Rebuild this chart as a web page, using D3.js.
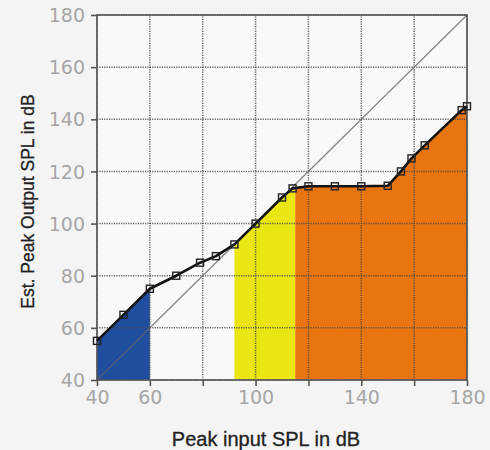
<!DOCTYPE html>
<html><head><meta charset="utf-8">
<script src="https://cdn.jsdelivr.net/npm/d3@7"></script>
<style>html,body{margin:0;padding:0;background:#f4f4f4;}svg{display:block;}</style>
</head><body>
<svg id="chart" width="490" height="450"></svg>
<script>
// Data
const inputSPL  = [40, 50, 60, 70, 79, 85, 92, 100, 110, 114, 120, 130, 140, 150, 155, 159, 164, 178, 180];
const outputSPL = [55, 65, 75, 80, 85, 87.5, 92, 100, 110, 113.5, 114.3, 114.3, 114.3, 114.5, 120, 125, 130, 143.5, 145];
const bandStart = [40, 92, 115];
const bandEnd   = [60, 115, 180];
const bandColor = ["#1f4e9e", "#ebe514", "#e8750f"];
const gridValues = [40, 60, 80, 100, 120, 140, 160, 180];
const xTickLabels = [40, 60, 100, 140, 180];
const yTickLabels = [40, 60, 80, 100, 120, 140, 160, 180];

const W = 490, H = 450;
const m = {left: 97, right: 23, top: 15, bottom: 70};
const svg = d3.select("#chart");
const x = d3.scaleLinear().domain([40, 180]).range([m.left, W - m.right]);
const y = d3.scaleLinear().domain([40, 180]).range([H - m.bottom, m.top]);

svg.append("rect").attr("width", W).attr("height", H).attr("fill", "#f4f4f4");
svg.append("rect").attr("x", x(40)).attr("y", y(180))
  .attr("width", x(180) - x(40)).attr("height", y(40) - y(180)).attr("fill", "#f9f9f9");

const pts = inputSPL.map((d, i) => [d, outputSPL[i]]);
const area = d3.area().x(d => x(d[0])).y0(y(40)).y1(d => y(d[1]));
const defs = svg.append("defs");
bandStart.forEach((s, i) => {
  defs.append("clipPath").attr("id", "band" + i).append("rect")
    .attr("x", x(s)).attr("y", y(180))
    .attr("width", x(bandEnd[i]) - x(s)).attr("height", y(40) - y(180));
  svg.append("path").datum(pts).attr("d", area)
    .attr("fill", bandColor[i]).attr("clip-path", "url(#band" + i + ")");
});

// grid
const g = svg.append("g");
gridValues.forEach(v => {
  g.append("line").attr("x1", x(v)).attr("x2", x(v)).attr("y1", y(40)).attr("y2", y(180))
    .attr("stroke", "#4a4a4a").attr("stroke-width", 1.5).attr("stroke-dasharray", "1.2,1.2").attr("opacity", 0.85);
  g.append("line").attr("y1", y(v)).attr("y2", y(v)).attr("x1", x(40)).attr("x2", x(180))
    .attr("stroke", "#4a4a4a").attr("stroke-width", 1.5).attr("stroke-dasharray", "1.2,1.2").attr("opacity", 0.85);
});

// identity line
svg.append("line").attr("x1", x(40)).attr("y1", y(40)).attr("x2", x(180)).attr("y2", y(180))
  .attr("stroke", "#666").attr("stroke-width", 1.2).attr("opacity", 0.8);

// frame
svg.append("rect").attr("x", x(40)).attr("y", y(180))
  .attr("width", x(180) - x(40)).attr("height", y(40) - y(180))
  .attr("fill", "none").attr("stroke", "#555").attr("stroke-width", 1.6);

// axes
const xAxis = d3.axisBottom(x).tickValues(gridValues).tickSize(6)
  .tickFormat(d => xTickLabels.includes(d) ? d : "");
const yAxis = d3.axisLeft(y).tickValues(yTickLabels).tickSize(6).tickFormat(d => d);
const gx = svg.append("g").attr("transform", `translate(0,${y(40)})`).call(xAxis);
const gy = svg.append("g").attr("transform", `translate(${x(40)},0)`).call(yAxis);
[gx, gy].forEach(a => {
  a.select(".domain").remove();
  a.selectAll(".tick line").attr("stroke", "#555").attr("stroke-width", 1.6);
  a.selectAll(".tick text").attr("fill", "#a6a6a6")
    .attr("font-family", "DejaVu Sans").attr("font-size", 19);
});
gx.selectAll(".tick text").attr("dy", "0.71em").attr("y", 11);
gy.selectAll(".tick text").attr("x", -12).attr("dy", "0.35em");

// curve
svg.append("path").datum(pts)
  .attr("d", d3.line().x(d => x(d[0])).y(d => y(d[1])))
  .attr("fill", "none").attr("stroke", "#111").attr("stroke-width", 2.6).attr("stroke-linejoin", "round");
svg.selectAll(".mk").data(pts).enter().append("rect")
  .attr("x", d => x(d[0]) - 3.5).attr("y", d => y(d[1]) - 3.5)
  .attr("width", 7).attr("height", 7)
  .attr("fill", "none").attr("stroke", "#222").attr("stroke-width", 1.4);

// labels
svg.append("text").attr("x", 266).attr("y", 446)
  .attr("text-anchor", "middle").attr("font-family", "Liberation Sans, Arial, sans-serif")
  .attr("font-size", 20).attr("fill", "#222").attr("stroke", "#222").attr("stroke-width", 0.3)
  .text("Peak input SPL in dB");
svg.append("text").attr("transform", `translate(34,${(y(40) + y(180)) / 2 + 4}) rotate(-90)`)
  .attr("text-anchor", "middle").attr("font-family", "Liberation Sans, Arial, sans-serif")
  .attr("font-size", 17.5).attr("fill", "#222").attr("stroke", "#222").attr("stroke-width", 0.3)
  .text("Est. Peak Output SPL in dB");
</script>
</body></html>
